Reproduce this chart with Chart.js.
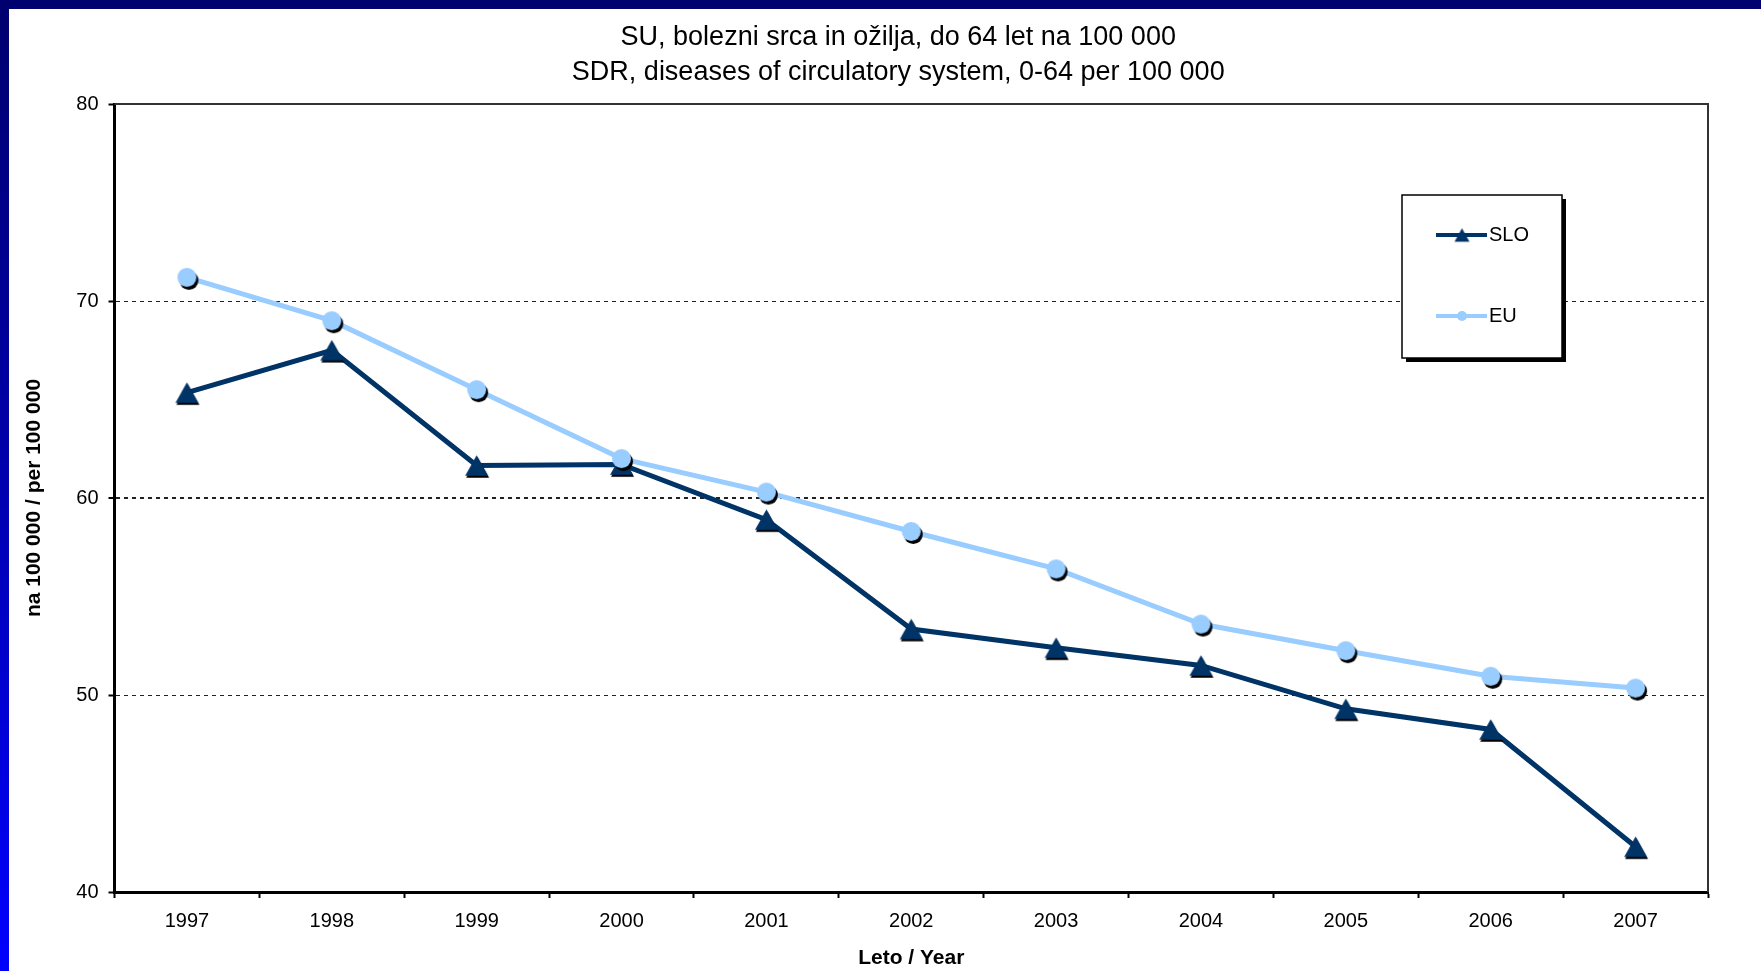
<!DOCTYPE html>
<html>
<head>
<meta charset="utf-8">
<script src="https://cdn.jsdelivr.net/npm/chart.js@4/dist/chart.umd.min.js"></script>
<style>
  html, body { margin: 0; padding: 0; background: #fff; overflow: hidden; width: 1761px; height: 971px; }
  #topBand { position: absolute; left: 0; top: 0; width: 1761px; height: 9px; background: #00006e; }
  #leftBand { position: absolute; left: 0; top: 0; width: 9px; height: 971px; background: linear-gradient(to bottom, #00006e 0%, #0000a8 45%, #0000ff 100%); }
  #chart { position: absolute; left: 9px; top: 9px; }
</style>
</head>
<body>
<div id="topBand"></div>
<div id="leftBand"></div>
<canvas id="chart" width="1752" height="962"></canvas>
<script>
const years = ['1997', '1998', '1999', '2000', '2001', '2002', '2003', '2004', '2005', '2006', '2007']
const sloValues = [65.35, 67.5, 61.65, 61.7, 58.9, 53.35, 52.4, 51.5, 49.3, 48.25, 42.3]
const euValues = [71.2, 69.0, 65.5, 62.0, 60.3, 58.3, 56.4, 53.6, 52.25, 50.95, 50.35]
const yMin = 40
const yMax = 80
const yStep = 10

const titleLines = [
  'SU, bolezni srca in ožilja, do 64 let na 100 000',
  'SDR, diseases of circulatory system, 0-64 per 100 000'
]
const yTitle = 'na 100 000 / per 100 000'
const xTitle = 'Leto / Year'

const SLO_COLOR = '#003366'
const EU_COLOR = '#99ccff'
const FONT = "'Liberation Sans', Arial, sans-serif"

// marker images with the little black drop shadow Excel puts under them
function triangleMarker(color, size, shadow) {
  let c = document.createElement('canvas')
  c.width = c.height = size + 6
  let ctx = c.getContext('2d')
  let m = c.width / 2
  let h = size * 0.9
  let draw = (dx, dy, fill) => {
    ctx.beginPath()
    ctx.moveTo(m + dx, m - h / 2 + dy)
    ctx.lineTo(m + size / 2 + dx, m + h / 2 + dy)
    ctx.lineTo(m - size / 2 + dx, m + h / 2 + dy)
    ctx.closePath()
    ctx.fillStyle = fill
    ctx.fill()
  }
  if (shadow) draw(1, 2, '#000')
  draw(0, 0, color)
  return c
}

function circleMarker(color, size, shadow) {
  let c = document.createElement('canvas')
  c.width = c.height = size + 8
  let ctx = c.getContext('2d')
  let m = c.width / 2
  let draw = (dx, dy, fill) => {
    ctx.beginPath()
    ctx.arc(m + dx, m + dy, size / 2, 0, Math.PI * 2)
    ctx.fillStyle = fill
    ctx.fill()
  }
  if (shadow) draw(2, 3, '#000')
  draw(0, 0, color)
  return c
}

const sloMarker = triangleMarker(SLO_COLOR, 23, true)
const euMarker = circleMarker(EU_COLOR, 19, true)
const sloLegendMarker = triangleMarker(SLO_COLOR, 15, false)
const euLegendMarker = circleMarker(EU_COLOR, 10, false)

// two-line title, centred a bit left of the plot middle like the original
const topTitle = {
  id: 'topTitle',
  afterDraw(chart) {
    let { ctx, chartArea: a } = chart
    let cx = (a.left + a.right) / 2 - 13
    ctx.save()
    ctx.fillStyle = '#000'
    ctx.font = '27px ' + FONT
    ctx.textAlign = 'center'
    ctx.textBaseline = 'middle'
    titleLines.forEach((line, i) => ctx.fillText(line, cx, a.top - 66 + i * 35))
    ctx.restore()
  }
}

const frame = {
  id: 'frame',
  beforeDatasetsDraw(chart) {
    let { ctx, chartArea: a } = chart
    ctx.save()
    ctx.strokeStyle = '#333'
    ctx.lineWidth = 2
    ctx.beginPath()
    ctx.moveTo(a.left, a.top)
    ctx.lineTo(a.right, a.top)
    ctx.lineTo(a.right, a.bottom)
    ctx.stroke()
    ctx.restore()
  }
}

const boxLegend = {
  id: 'boxLegend',
  afterDraw(chart) {
    let { ctx, chartArea: a } = chart
    let left = a.right - 306
    let top = a.top + 91
    let w = 160
    let h = 163
    ctx.save()
    ctx.fillStyle = '#000'
    ctx.fillRect(left + 4, top + 4, w, h)
    ctx.fillStyle = '#fff'
    ctx.fillRect(left, top, w, h)
    ctx.strokeStyle = '#000'
    ctx.lineWidth = 1.5
    ctx.strokeRect(left, top, w, h)

    let markers = [sloLegendMarker, euLegendMarker]
    chart.data.datasets.forEach((ds, i) => {
      let y = top + 40 + i * 81
      ctx.strokeStyle = ds.borderColor
      ctx.lineWidth = 4
      ctx.beginPath()
      ctx.moveTo(left + 34, y)
      ctx.lineTo(left + 85, y)
      ctx.stroke()
      let mk = markers[i]
      ctx.drawImage(mk, left + 60 - mk.width / 2, y - mk.height / 2)
      ctx.fillStyle = '#000'
      ctx.font = '20px ' + FONT
      ctx.textBaseline = 'middle'
      ctx.fillText(ds.label, left + 87, y)
    })
    ctx.restore()
  }
}

new Chart(document.getElementById('chart'), {
  type: 'line',
  data: {
    labels: years,
    datasets: [
      {
        label: 'SLO',
        data: sloValues,
        borderColor: SLO_COLOR,
        backgroundColor: SLO_COLOR,
        borderWidth: 5,
        pointStyle: sloMarker,
        pointRadius: 12,
        tension: 0,
        order: 1
      },
      {
        label: 'EU',
        data: euValues,
        borderColor: EU_COLOR,
        backgroundColor: EU_COLOR,
        borderWidth: 5,
        pointStyle: euMarker,
        pointRadius: 10,
        tension: 0,
        order: 0
      }
    ]
  },
  options: {
    responsive: false,
    animation: false,
    layout: { padding: { left: 0, right: 53, top: 95, bottom: 0 } },
    plugins: {
      legend: { display: false },
      tooltip: { enabled: false },
      title: { display: false }
    },
    scales: {
      x: {
        offset: true,
        afterFit: (scale) => { scale.height = 79 },
        grid: {
          offset: true,
          drawOnChartArea: false,
          drawTicks: true,
          tickLength: 6,
          tickWidth: 2,
          tickColor: '#000'
        },
        border: { display: true, color: '#000', width: 3 },
        ticks: {
          color: '#000',
          padding: 11,
          maxRotation: 0,
          font: { family: FONT, size: 20 }
        },
        title: {
          display: true,
          text: xTitle,
          color: '#000',
          font: { family: FONT, size: 21, weight: 'bold', lineHeight: 1.2 },
          padding: { top: 0, bottom: 0 }
        }
      },
      y: {
        min: yMin,
        max: yMax,
        afterFit: (scale) => { scale.width = 105.5 },
        grid: {
          color: (c) => (c.tick.value === yMin || c.tick.value === yMax ? 'transparent' : '#222'),
          lineWidth: (c) => (c.tick.value === 60 ? 2 : 1),
          tickBorderDash: [],
          tickLength: 6,
          tickWidth: 2,
          tickColor: '#000'
        },
        border: { display: true, color: '#000', width: 3, dash: [4, 4] },
        ticks: {
          stepSize: yStep,
          color: '#000',
          padding: 10,
          font: { family: FONT, size: 20 }
        },
        title: {
          display: true,
          text: yTitle,
          color: '#000',
          font: { family: FONT, size: 21, weight: 'bold', lineHeight: 1.2 },
          padding: { top: 13, bottom: 0 }
        }
      }
    }
  },
  plugins: [topTitle, frame, boxLegend]
})
</script>
</body>
</html>
